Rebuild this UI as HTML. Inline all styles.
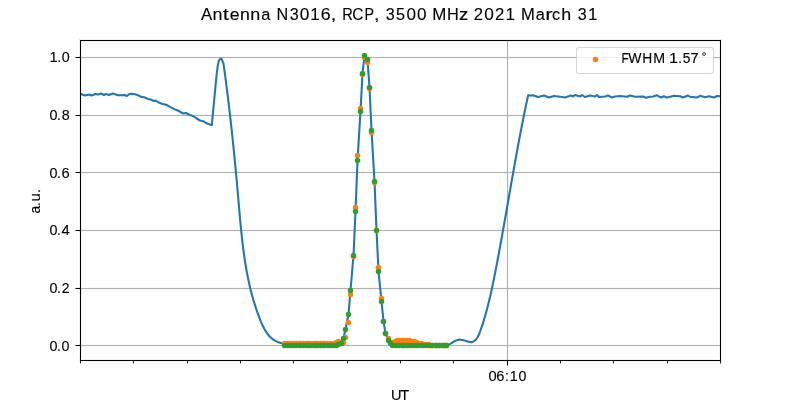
<!DOCTYPE html>
<html><head><meta charset="utf-8"><style>
html,body{margin:0;padding:0;background:#fff;width:800px;height:400px;overflow:hidden}
svg{display:block;will-change:transform}
text{font-family:"Liberation Sans",sans-serif;fill:#000;stroke:#000;stroke-width:0.12px}
</style></head><body>
<svg width="800" height="400" viewBox="0 0 800 400">
<rect x="0" y="0" width="800" height="400" fill="#fff"/>
<text transform="translate(206.68,20.00) scale(0.988,1)" x="-5.68" font-size="17.00">A</text><text transform="translate(217.55,20.00) scale(1.055,1)" x="-4.72" font-size="17.00">n</text><text transform="translate(225.82,20.00) scale(1.300,1)" x="-2.30" font-size="17.00">t</text><text transform="translate(234.34,20.00) scale(1.043,1)" x="-4.47" font-size="17.00">e</text><text transform="translate(244.82,20.00) scale(1.046,1)" x="-4.72" font-size="17.00">n</text><text transform="translate(255.31,20.00) scale(1.057,1)" x="-4.72" font-size="17.00">n</text><text transform="translate(266.01,20.00) scale(0.965,1)" x="-4.96" font-size="17.00">a</text><text transform="translate(282.36,20.00) scale(0.951,1)" x="-6.13" font-size="17.00">N</text><text transform="translate(294.71,20.00) scale(0.950,1)" x="-5.33" font-size="17.00">3</text><text transform="translate(304.59,20.00) scale(1.015,1)" x="-4.73" font-size="17.00">0</text><text transform="translate(315.07,20.00) scale(0.992,1)" x="-4.74" font-size="17.00">1</text><text transform="translate(325.50,20.00) scale(1.047,1)" x="-4.58" font-size="17.00">6</text><text transform="translate(333.58,20.00) scale(1.250,1)" x="-2.41" font-size="17.00">,</text><text transform="translate(347.11,20.00) scale(0.858,1)" x="-5.75" font-size="17.00">R</text><text transform="translate(357.27,20.00) scale(0.910,1)" x="-5.43" font-size="17.00">C</text><text transform="translate(368.54,20.00) scale(0.844,1)" x="-4.90" font-size="17.00">P</text><text transform="translate(376.65,20.00) scale(1.250,1)" x="-2.41" font-size="17.00">,</text><text transform="translate(390.75,20.00) scale(0.949,1)" x="-5.33" font-size="17.00">3</text><text transform="translate(400.57,20.00) scale(0.960,1)" x="-4.65" font-size="17.00">5</text><text transform="translate(411.16,20.00) scale(1.006,1)" x="-4.73" font-size="17.00">0</text><text transform="translate(421.67,20.00) scale(1.010,1)" x="-4.73" font-size="17.00">0</text><text transform="translate(439.33,20.00) scale(0.994,1)" x="-7.07" font-size="17.00">M</text><text transform="translate(452.78,20.00) scale(0.963,1)" x="-6.10" font-size="17.00">H</text><text transform="translate(463.48,20.00) scale(1.095,1)" x="-4.15" font-size="17.00">z</text><text transform="translate(478.48,20.00) scale(0.980,1)" x="-4.84" font-size="17.00">2</text><text transform="translate(489.04,20.00) scale(1.017,1)" x="-4.73" font-size="17.00">0</text><text transform="translate(499.65,20.00) scale(0.980,1)" x="-4.84" font-size="17.00">2</text><text transform="translate(510.21,20.00) scale(1.003,1)" x="-4.74" font-size="17.00">1</text><text transform="translate(527.99,20.00) scale(0.976,1)" x="-7.07" font-size="17.00">M</text><text transform="translate(540.50,20.00) scale(0.965,1)" x="-4.96" font-size="17.00">a</text><text transform="translate(548.32,20.00) scale(1.300,1)" x="-2.40" font-size="17.00">r</text><text transform="translate(555.79,20.00) scale(0.960,1)" x="-3.86" font-size="17.00">c</text><text transform="translate(565.74,20.00) scale(1.049,1)" x="-4.34" font-size="17.00">h</text><text transform="translate(582.82,20.00) scale(0.948,1)" x="-5.33" font-size="17.00">3</text><text transform="translate(592.70,20.00) scale(0.999,1)" x="-4.74" font-size="17.00">1</text>
<g fill="#b0b0b0" shape-rendering="crispEdges"><rect x="80" y="57" width="641" height="1"/><rect x="80" y="115" width="641" height="1"/><rect x="80" y="172" width="641" height="1"/><rect x="80" y="230" width="641" height="1"/><rect x="80" y="288" width="641" height="1"/><rect x="80" y="345" width="641" height="1"/><rect x="507" y="40" width="1" height="321"/></g>
<g fill="#b0b0b0" fill-opacity="0.063" shape-rendering="crispEdges"><rect x="80" y="56" width="641" height="1"/><rect x="80" y="58" width="641" height="1"/><rect x="80" y="114" width="641" height="1"/><rect x="80" y="116" width="641" height="1"/><rect x="80" y="171" width="641" height="1"/><rect x="80" y="173" width="641" height="1"/><rect x="80" y="229" width="641" height="1"/><rect x="80" y="231" width="641" height="1"/><rect x="80" y="287" width="641" height="1"/><rect x="80" y="289" width="641" height="1"/><rect x="80" y="344" width="641" height="1"/><rect x="80" y="346" width="641" height="1"/><rect x="506" y="40" width="1" height="321"/><rect x="508" y="40" width="1" height="321"/></g>
<defs><clipPath id="ax"><rect x="80" y="40" width="641" height="321"/></clipPath></defs>
<g clip-path="url(#ax)" fill="none" stroke="#1f77b4" stroke-width="2.08" stroke-linejoin="round" stroke-linecap="square"><polyline points="80.00,94.00 81.00,94.00 85.00,95.50 89.50,94.50 91.50,95.50 95.50,94.00 98.00,94.50 101.00,93.50 104.00,95.00 106.00,94.00 109.00,95.00 113.00,93.50 118.00,95.20 124.50,95.00 127.00,96.00 129.50,94.00 132.00,93.80 136.00,94.50 137.50,95.00 141.25,96.90 145.00,97.50 148.10,99.00 151.25,99.75 153.75,101.00 155.60,100.60 160.00,103.10 162.50,104.00 166.25,104.75 170.00,106.90 175.00,109.40 178.00,110.50 183.00,113.50 186.00,113.00 190.00,115.00 193.00,116.00 196.00,118.00 200.00,120.50 204.00,121.50 206.00,123.00 211.80,125.20 215.60,85.00 215.65,84.47 215.73,83.75 215.81,82.89 215.91,81.94 216.01,80.96 216.10,80.00 216.19,79.01 216.29,77.94 216.39,76.84 216.50,75.75 216.60,74.70 216.70,73.75 216.80,72.91 216.90,72.15 216.99,71.44 217.09,70.75 217.19,70.05 217.30,69.30 217.41,68.50 217.51,67.66 217.63,66.81 217.74,65.97 217.86,65.16 218.00,64.40 218.14,63.68 218.27,62.99 218.42,62.32 218.58,61.69 218.77,61.12 219.00,60.60 219.28,60.12 219.62,59.65 219.98,59.24 220.35,58.90 220.70,58.68 221.00,58.60 221.27,58.73 221.53,59.04 221.78,59.48 221.99,59.93 222.17,60.34 222.30,60.60 223.47,63.41 223.89,66.41 224.30,69.42 224.71,72.43 225.12,75.43 225.52,78.44 225.91,81.44 226.30,84.44 226.68,87.44 227.06,90.44 227.44,93.44 227.81,96.44 228.18,99.44 228.54,102.44 228.90,105.44 229.25,108.43 229.60,111.43 229.94,114.43 230.29,117.42 230.62,120.42 230.96,123.42 231.29,126.41 231.61,129.41 231.93,132.41 232.25,135.41 232.57,138.40 232.88,141.40 233.19,144.40 233.50,147.40 233.80,150.40 234.10,153.40 234.39,156.41 234.69,159.41 234.98,162.41 235.27,165.42 235.55,168.42 235.84,171.43 236.12,174.44 236.40,177.45 236.67,180.46 236.95,183.47 237.22,186.49 237.49,189.50 237.76,192.52 238.02,195.54 238.29,198.56 238.55,201.59 238.81,204.61 239.07,207.64 239.34,210.67 239.60,213.69 239.87,216.72 240.14,219.75 240.42,222.78 240.71,225.81 241.00,228.84 241.31,231.86 241.62,234.89 241.95,237.91 242.29,240.93 242.64,243.94 243.01,246.96 243.39,249.97 243.79,252.97 244.21,255.98 244.65,258.97 245.11,261.97 245.59,264.95 246.09,267.94 246.62,270.91 247.17,273.88 247.75,276.85 248.36,279.80 249.00,282.75 249.66,285.70 250.36,288.63 251.09,291.56 251.85,294.47 252.65,297.38 253.48,300.28 254.35,303.17 255.25,306.05 256.20,308.92 257.18,311.78 258.21,314.62 259.28,317.46 260.39,320.28 261.56,323.09 262.79,325.84 264.13,328.52 265.60,331.08 267.23,333.51 269.03,335.75 271.05,337.79 273.30,339.60 275.81,341.13 278.61,342.36 281.72,343.26 285.18,343.79 300.00,345.00 338.00,345.20"/><polyline points="338.00,345.20 338.50,344.20 341.50,343.00 343.50,338.00 345.50,329.25 348.50,314.25 350.50,290.25 353.50,255.50 355.50,211.25 357.50,160.60 360.50,111.00 362.50,73.50 364.50,55.25 367.50,59.40 369.50,87.50 371.50,130.40 374.50,181.40 376.50,230.00 378.50,271.25 381.50,301.50 383.50,321.00 385.50,333.50 388.50,340.00 390.50,343.50 392.50,345.00 395.00,345.50 449.00,344.60 449.00,344.60 449.33,344.40 449.78,344.13 450.31,343.81 450.89,343.47 451.47,343.12 452.00,342.80 452.50,342.49 453.00,342.17 453.50,341.86 454.00,341.55 454.50,341.26 455.00,341.00 455.51,340.77 456.03,340.55 456.55,340.35 457.06,340.18 457.54,340.03 458.00,339.90 458.41,339.80 458.79,339.72 459.14,339.67 459.49,339.64 459.85,339.64 460.25,339.65 460.67,339.69 461.11,339.76 461.56,339.86 462.03,339.97 462.51,340.08 463.00,340.20 463.52,340.32 464.06,340.45 464.62,340.58 465.19,340.72 465.73,340.86 466.25,341.00 466.74,341.14 467.21,341.29 467.67,341.43 468.12,341.57 468.56,341.70 469.00,341.80 469.46,341.88 469.94,341.95 470.42,342.00 470.86,342.04 471.23,342.07 471.61,342.38 474.07,341.15 475.99,339.49 477.46,337.50 478.62,335.28 479.59,332.91 480.46,330.49 481.31,328.05 482.14,325.61 482.93,323.16 483.71,320.70 484.46,318.24 485.18,315.76 485.89,313.29 486.58,310.80 487.24,308.31 487.89,305.81 488.52,303.31 489.13,300.80 489.73,298.29 490.32,295.77 490.89,293.25 491.45,290.73 491.99,288.20 492.53,285.67 493.06,283.14 493.58,280.60 494.09,278.07 494.59,275.53 495.09,272.99 495.58,270.45 496.07,267.91 496.56,265.37 497.05,262.83 497.53,260.29 498.01,257.75 498.48,255.21 498.95,252.66 499.42,250.12 499.89,247.58 500.36,245.04 500.82,242.50 501.28,239.96 501.74,237.41 502.20,234.87 502.65,232.33 503.11,229.79 503.56,227.25 504.01,224.70 504.46,222.16 504.91,219.62 505.36,217.08 505.80,214.53 506.25,211.99 506.70,209.45 507.14,206.90 507.59,204.36 508.03,201.82 508.48,199.28 508.92,196.74 509.37,194.19 509.81,191.65 510.26,189.11 510.70,186.57 511.15,184.03 511.60,181.48 512.05,178.94 512.50,176.40 512.95,173.86 513.40,171.32 513.85,168.78 514.31,166.24 514.76,163.70 515.22,161.16 515.68,158.62 516.14,156.08 516.61,153.54 517.07,151.00 517.54,148.46 518.01,145.93 518.49,143.39 518.96,140.85 519.44,138.31 519.92,135.78 520.41,133.24 520.90,130.70 521.39,128.17 521.89,125.63 522.38,123.10 522.89,120.56 523.39,118.03 523.90,115.50 524.42,112.96 524.94,110.43 525.46,107.90 525.99,105.37 526.52,102.84 527.06,100.31 527.60,97.78 528.15,95.25 531.00,95.50 533.00,95.30 538.00,97.00 544.00,95.50 549.00,97.50 554.00,96.00 562.00,97.00 565.00,97.50 571.00,95.50 573.00,96.50 575.00,95.00 580.00,96.50 582.00,95.00 585.00,97.00 590.00,95.50 595.00,96.50 597.00,95.00 599.00,97.00 605.00,96.50 608.00,95.50 612.00,97.50 615.00,96.50 620.00,96.00 627.00,96.80 630.00,95.50 635.00,96.80 643.00,96.50 646.00,97.80 650.00,96.80 653.00,96.50 657.00,95.30 661.00,97.50 664.00,96.20 667.00,97.60 670.00,96.80 674.00,95.80 680.00,96.20 683.00,97.50 688.00,95.50 690.00,96.80 697.00,97.50 700.00,95.80 705.00,97.30 709.00,96.30 714.00,97.50 717.00,96.00 720.00,96.30 722.00,96.30"/></g>
<g fill="#ff7f0e"><circle cx="284.50" cy="343.50" r="2.75"/><circle cx="287.50" cy="343.50" r="2.75"/><circle cx="289.50" cy="343.50" r="2.75"/><circle cx="291.50" cy="343.50" r="2.75"/><circle cx="294.50" cy="343.50" r="2.75"/><circle cx="296.50" cy="343.50" r="2.75"/><circle cx="299.50" cy="343.50" r="2.75"/><circle cx="301.50" cy="343.50" r="2.75"/><circle cx="303.50" cy="343.50" r="2.75"/><circle cx="306.50" cy="343.50" r="2.75"/><circle cx="308.50" cy="343.50" r="2.75"/><circle cx="310.50" cy="343.50" r="2.75"/><circle cx="313.50" cy="343.50" r="2.75"/><circle cx="315.50" cy="343.50" r="2.75"/><circle cx="317.50" cy="343.50" r="2.75"/><circle cx="320.50" cy="343.50" r="2.75"/><circle cx="322.50" cy="343.50" r="2.75"/><circle cx="324.50" cy="343.50" r="2.75"/><circle cx="327.50" cy="343.50" r="2.75"/><circle cx="329.50" cy="343.50" r="2.75"/><circle cx="331.50" cy="343.50" r="2.75"/><circle cx="334.50" cy="343.50" r="2.75"/><circle cx="336.50" cy="342.50" r="2.75"/><circle cx="338.50" cy="341.50" r="2.75"/><circle cx="341.50" cy="342.50" r="2.75"/><circle cx="343.50" cy="342.50" r="2.75"/><circle cx="345.50" cy="337.50" r="2.75"/><circle cx="348.50" cy="322.50" r="2.75"/><circle cx="350.50" cy="294.50" r="2.75"/><circle cx="353.50" cy="256.50" r="2.75"/><circle cx="355.50" cy="207.50" r="2.75"/><circle cx="357.50" cy="155.50" r="2.75"/><circle cx="360.50" cy="108.50" r="2.75"/><circle cx="362.50" cy="74.50" r="2.75"/><circle cx="364.50" cy="57.50" r="2.75"/><circle cx="367.50" cy="62.50" r="2.75"/><circle cx="369.50" cy="88.50" r="2.75"/><circle cx="371.50" cy="132.50" r="2.75"/><circle cx="374.50" cy="182.50" r="2.75"/><circle cx="376.50" cy="230.50" r="2.75"/><circle cx="378.50" cy="267.50" r="2.75"/><circle cx="381.50" cy="298.50" r="2.75"/><circle cx="383.50" cy="321.50" r="2.75"/><circle cx="385.50" cy="333.50" r="2.75"/><circle cx="388.50" cy="338.50" r="2.75"/><circle cx="390.50" cy="342.50" r="2.75"/><circle cx="392.50" cy="342.50" r="2.75"/><circle cx="395.50" cy="341.50" r="2.75"/><circle cx="397.50" cy="340.50" r="2.75"/><circle cx="399.50" cy="340.50" r="2.75"/><circle cx="402.50" cy="340.50" r="2.75"/><circle cx="404.50" cy="340.50" r="2.75"/><circle cx="407.50" cy="340.50" r="2.75"/><circle cx="409.50" cy="340.50" r="2.75"/><circle cx="411.50" cy="341.50" r="2.75"/><circle cx="414.50" cy="341.50" r="2.75"/><circle cx="416.50" cy="342.50" r="2.75"/><circle cx="418.50" cy="343.50" r="2.75"/><circle cx="421.50" cy="343.50" r="2.75"/><circle cx="423.50" cy="344.50" r="2.75"/><circle cx="425.50" cy="344.50" r="2.75"/><circle cx="428.50" cy="344.50" r="2.75"/><circle cx="430.50" cy="345.50" r="2.75"/><circle cx="432.50" cy="345.50" r="2.75"/><circle cx="435.50" cy="345.50" r="2.75"/><circle cx="437.50" cy="345.50" r="2.75"/><circle cx="439.50" cy="345.50" r="2.75"/><circle cx="442.50" cy="345.50" r="2.75"/><circle cx="444.50" cy="345.50" r="2.75"/><circle cx="446.50" cy="345.50" r="2.75"/></g>
<g fill="#2ca02c"><circle cx="284.50" cy="345.50" r="2.75"/><circle cx="287.50" cy="345.50" r="2.75"/><circle cx="289.50" cy="345.50" r="2.75"/><circle cx="291.50" cy="345.50" r="2.75"/><circle cx="294.50" cy="345.50" r="2.75"/><circle cx="296.50" cy="345.50" r="2.75"/><circle cx="299.50" cy="345.50" r="2.75"/><circle cx="301.50" cy="345.50" r="2.75"/><circle cx="303.50" cy="345.50" r="2.75"/><circle cx="306.50" cy="345.50" r="2.75"/><circle cx="308.50" cy="345.50" r="2.75"/><circle cx="310.50" cy="345.50" r="2.75"/><circle cx="313.50" cy="345.50" r="2.75"/><circle cx="315.50" cy="345.50" r="2.75"/><circle cx="317.50" cy="345.50" r="2.75"/><circle cx="320.50" cy="345.50" r="2.75"/><circle cx="322.50" cy="345.50" r="2.75"/><circle cx="324.50" cy="345.50" r="2.75"/><circle cx="327.50" cy="345.50" r="2.75"/><circle cx="329.50" cy="345.50" r="2.75"/><circle cx="331.50" cy="345.50" r="2.75"/><circle cx="334.50" cy="345.50" r="2.75"/><circle cx="336.50" cy="345.50" r="2.75"/><circle cx="338.50" cy="344.50" r="2.75"/><circle cx="341.50" cy="343.50" r="2.75"/><circle cx="343.50" cy="338.50" r="2.75"/><circle cx="345.50" cy="329.50" r="2.75"/><circle cx="348.50" cy="314.50" r="2.75"/><circle cx="350.50" cy="290.50" r="2.75"/><circle cx="353.50" cy="255.50" r="2.75"/><circle cx="355.50" cy="211.50" r="2.75"/><circle cx="357.50" cy="160.50" r="2.75"/><circle cx="360.50" cy="111.50" r="2.75"/><circle cx="362.50" cy="73.50" r="2.75"/><circle cx="364.50" cy="55.50" r="2.75"/><circle cx="367.50" cy="59.50" r="2.75"/><circle cx="369.50" cy="87.50" r="2.75"/><circle cx="371.50" cy="130.50" r="2.75"/><circle cx="374.50" cy="181.50" r="2.75"/><circle cx="376.50" cy="230.50" r="2.75"/><circle cx="378.50" cy="271.50" r="2.75"/><circle cx="381.50" cy="301.50" r="2.75"/><circle cx="383.50" cy="321.50" r="2.75"/><circle cx="385.50" cy="333.50" r="2.75"/><circle cx="388.50" cy="340.50" r="2.75"/><circle cx="390.50" cy="343.50" r="2.75"/><circle cx="392.50" cy="345.50" r="2.75"/><circle cx="395.50" cy="345.50" r="2.75"/><circle cx="397.50" cy="345.50" r="2.75"/><circle cx="399.50" cy="345.50" r="2.75"/><circle cx="402.50" cy="345.50" r="2.75"/><circle cx="404.50" cy="345.50" r="2.75"/><circle cx="407.50" cy="345.50" r="2.75"/><circle cx="409.50" cy="345.50" r="2.75"/><circle cx="411.50" cy="345.50" r="2.75"/><circle cx="414.50" cy="345.50" r="2.75"/><circle cx="416.50" cy="345.50" r="2.75"/><circle cx="418.50" cy="345.50" r="2.75"/><circle cx="421.50" cy="345.50" r="2.75"/><circle cx="423.50" cy="345.50" r="2.75"/><circle cx="425.50" cy="345.50" r="2.75"/><circle cx="428.50" cy="345.50" r="2.75"/><circle cx="430.50" cy="345.50" r="2.75"/><circle cx="432.50" cy="345.50" r="2.75"/><circle cx="435.50" cy="345.50" r="2.75"/><circle cx="437.50" cy="345.50" r="2.75"/><circle cx="439.50" cy="345.50" r="2.75"/><circle cx="442.50" cy="345.50" r="2.75"/><circle cx="444.50" cy="345.50" r="2.75"/><circle cx="446.50" cy="345.50" r="2.75"/></g>
<g fill="#000" shape-rendering="crispEdges"><rect x="80" y="40" width="641" height="1"/><rect x="80" y="360" width="641" height="1"/><rect x="80" y="40" width="1" height="321"/><rect x="720" y="40" width="1" height="321"/><g fill-opacity="0.055"><rect x="79" y="39" width="643" height="1"/><rect x="79" y="41" width="643" height="1"/><rect x="79" y="359" width="643" height="1"/><rect x="79" y="361" width="643" height="1"/><rect x="79" y="39" width="1" height="323"/><rect x="81" y="41" width="1" height="318"/><rect x="719" y="41" width="1" height="318"/><rect x="721" y="39" width="1" height="323"/></g></g>
<g fill="#000"><rect x="75.5" y="57" width="4.5" height="1"/><rect x="75.5" y="56" width="4.5" height="1" fill-opacity="0.055"/><rect x="75.5" y="58" width="4.5" height="1" fill-opacity="0.055"/><rect x="75.5" y="115" width="4.5" height="1"/><rect x="75.5" y="114" width="4.5" height="1" fill-opacity="0.055"/><rect x="75.5" y="116" width="4.5" height="1" fill-opacity="0.055"/><rect x="75.5" y="172" width="4.5" height="1"/><rect x="75.5" y="171" width="4.5" height="1" fill-opacity="0.055"/><rect x="75.5" y="173" width="4.5" height="1" fill-opacity="0.055"/><rect x="75.5" y="230" width="4.5" height="1"/><rect x="75.5" y="229" width="4.5" height="1" fill-opacity="0.055"/><rect x="75.5" y="231" width="4.5" height="1" fill-opacity="0.055"/><rect x="75.5" y="288" width="4.5" height="1"/><rect x="75.5" y="287" width="4.5" height="1" fill-opacity="0.055"/><rect x="75.5" y="289" width="4.5" height="1" fill-opacity="0.055"/><rect x="75.5" y="345" width="4.5" height="1"/><rect x="75.5" y="344" width="4.5" height="1" fill-opacity="0.055"/><rect x="75.5" y="346" width="4.5" height="1" fill-opacity="0.055"/><rect x="80" y="361" width="1" height="2.5" fill-opacity="0.84"/><rect x="133" y="361" width="1" height="2.5" fill-opacity="0.84"/><rect x="187" y="361" width="1" height="2.5" fill-opacity="0.84"/><rect x="240" y="361" width="1" height="2.5" fill-opacity="0.84"/><rect x="293" y="361" width="1" height="2.5" fill-opacity="0.84"/><rect x="347" y="361" width="1" height="2.5" fill-opacity="0.84"/><rect x="400" y="361" width="1" height="2.5" fill-opacity="0.84"/><rect x="453" y="361" width="1" height="2.5" fill-opacity="0.84"/><rect x="507" y="361" width="1" height="4.5"/><rect x="506" y="361" width="1" height="4.5" fill-opacity="0.055"/><rect x="508" y="361" width="1" height="4.5" fill-opacity="0.055"/><rect x="560" y="361" width="1" height="2.5" fill-opacity="0.84"/><rect x="613" y="361" width="1" height="2.5" fill-opacity="0.84"/><rect x="667" y="361" width="1" height="2.5" fill-opacity="0.84"/><rect x="720" y="361" width="1" height="2.5" fill-opacity="0.84"/></g>
<text transform="translate(53.45,61.74) scale(1.000,1)" x="-3.99" font-size="14.58">1</text><text transform="translate(59.05,61.74) scale(0.949,1)" x="-1.94" font-size="14.58">.</text><text transform="translate(65.59,61.74) scale(0.980,1)" x="-3.94" font-size="14.58">0</text>
<text transform="translate(53.35,119.89) scale(0.984,1)" x="-3.94" font-size="14.58">0</text><text transform="translate(58.95,119.89) scale(0.949,1)" x="-1.94" font-size="14.58">.</text><text transform="translate(65.59,119.89) scale(0.986,1)" x="-3.95" font-size="14.58">8</text>
<text transform="translate(53.35,177.88) scale(0.984,1)" x="-3.94" font-size="14.58">0</text><text transform="translate(58.95,177.88) scale(0.949,1)" x="-1.94" font-size="14.58">.</text><text transform="translate(65.37,177.88) scale(1.005,1)" x="-3.81" font-size="14.58">6</text>
<text transform="translate(53.35,234.72) scale(0.984,1)" x="-3.94" font-size="14.58">0</text><text transform="translate(58.95,234.72) scale(0.949,1)" x="-1.94" font-size="14.58">.</text><text transform="translate(65.85,234.72) scale(1.011,1)" x="-4.31" font-size="14.58">4</text>
<text transform="translate(53.35,292.93) scale(0.984,1)" x="-3.94" font-size="14.58">0</text><text transform="translate(58.95,292.93) scale(0.949,1)" x="-1.94" font-size="14.58">.</text><text transform="translate(65.52,292.93) scale(0.955,1)" x="-4.05" font-size="14.58">2</text>
<text transform="translate(53.35,350.93) scale(0.984,1)" x="-3.94" font-size="14.58">0</text><text transform="translate(58.95,350.93) scale(0.949,1)" x="-1.94" font-size="14.58">.</text><text transform="translate(65.47,350.93) scale(0.979,1)" x="-3.94" font-size="14.58">0</text>
<text transform="translate(492.44,380.93) scale(1.009,1)" x="-3.94" font-size="14.58">0</text><text transform="translate(500.00,380.93) scale(1.006,1)" x="-3.81" font-size="14.58">6</text><text transform="translate(506.95,380.93) scale(0.949,1)" x="-1.94" font-size="14.58">:</text><text transform="translate(513.67,380.93) scale(0.982,1)" x="-3.99" font-size="14.58">1</text><text transform="translate(522.47,380.93) scale(0.979,1)" x="-3.94" font-size="14.58">0</text>
<text x="391.07 400.15" y="400.10" font-size="14.58">UT</text>
<text transform="translate(39.71,209.52) rotate(-90) scale(0.943,1)" x="-4.16" font-size="14.58">a</text><text transform="translate(39.71,204.14) rotate(-90) scale(0.915,1)" x="-1.94" font-size="14.58">.</text><text transform="translate(39.71,197.51) rotate(-90) scale(1.021,1)" x="-3.97" font-size="14.58">u</text><text transform="translate(39.71,191.05) rotate(-90) scale(0.949,1)" x="-1.94" font-size="14.58">.</text>
<rect x="576.5" y="47.5" width="137" height="26" rx="2.5" ry="2.5" fill="#fff" fill-opacity="0.8" stroke="#cccccc" stroke-opacity="0.8" stroke-width="1.11"/>
<circle cx="595.5" cy="59.5" r="2.75" fill="#ff7f0e"/>
<text transform="translate(624.26,62.76) scale(0.815,1)" x="-3.45" font-size="14.58">F</text><text transform="translate(634.87,62.76) scale(0.962,1)" x="-6.76" font-size="14.58">W</text><text transform="translate(647.20,62.76) scale(0.945,1)" x="-5.13" font-size="14.58">H</text><text transform="translate(659.03,62.76) scale(0.974,1)" x="-5.96" font-size="14.58">M</text><text transform="translate(673.41,62.76) scale(1.106,1)" x="-3.99" font-size="14.58">1</text><text transform="translate(680.14,62.76) scale(0.917,1)" x="-1.94" font-size="14.58">.</text><text transform="translate(686.34,62.76) scale(0.945,1)" x="-3.85" font-size="14.58">5</text><text transform="translate(694.74,62.76) scale(1.011,1)" x="-4.20" font-size="14.58">7</text>
<circle cx="704" cy="54" r="1.45" fill="none" stroke="#000" stroke-width="0.75"/>
</svg></body></html>
